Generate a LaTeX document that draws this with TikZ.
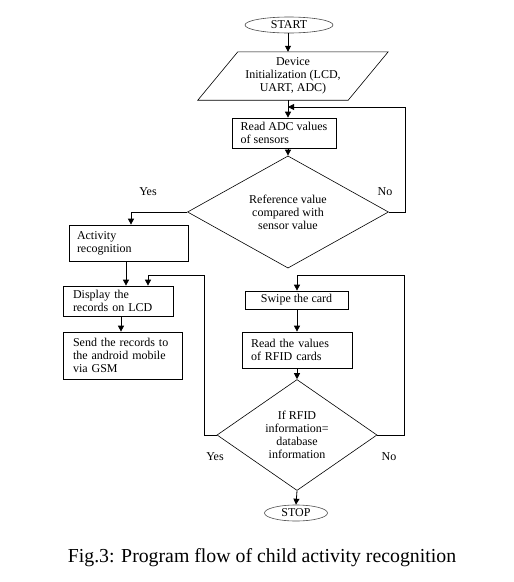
\documentclass[tikz,border=0pt]{standalone}
\usepackage{fontspec}
\setmainfont{Liberation Serif}
\usetikzlibrary{shapes.geometric,arrows.meta,calc}
\begin{document}
\begin{tikzpicture}[x=1pt,y=-1pt,
  nf/.style={font=\fontsize{12}{13}\selectfont},
  box/.style={draw, line width=0.7pt, inner sep=0pt, nf, align=left},
  term/.style={draw, ellipse, line width=0.6pt, draw=black!70, inner sep=0pt, nf},
  dec/.style={draw, diamond, line width=0.6pt, inner sep=0pt, nf, align=center},
  conn/.style={line width=0.8pt},
  arr/.style={conn, -{Triangle[length=6pt,width=6pt]}},
  lbl/.style={nf}]
\useasboundingbox (0,0) rectangle (514,582);
\coordinate (c) at (288,0);
% nodes
\node[term, minimum width=88, minimum height=16] (start) at (289,25) {START};
\node[nf, align=center, minimum width=150, minimum height=48, inner sep=0pt] (init) at (293,76) {Device\\Initialization (LCD,\\UART, ADC)};
\draw[line width=0.6pt] ($(init.north west)+(20,0)$) -- ($(init.north east)+(20,0)$) -- ($(init.south east)+(-20,0)$) -- ($(init.south west)+(-20,0)$) -- cycle;
\node[box, minimum width=104, minimum height=30] (read) at (284,133) {Read ADC values\\of sensors};
\node[dec, minimum width=201, minimum height=89] (dec1) at (288,212) {Reference value\\compared with\\sensor value};
\node[box, minimum width=119, minimum height=36, text width=103] (act) at (128.5,243) {Activity\\recognition};
\node[box, minimum width=110, minimum height=30, text width=90] (disp) at (118,301) {Display the\\records on LCD};
\node[box, minimum width=119, minimum height=47, text width=99] (send) at (122.5,355.5) {Send the records to\\the android mobile\\via GSM};
\node[box, align=center, minimum width=103, minimum height=18] (swipe) at (296.5,300) {Swipe the card};
\node[box, minimum width=110, minimum height=36, text width=92] (rfid) at (297,350) {Read the values\\of RFID cards};
\node[dec, minimum width=160, minimum height=109] (dec2) at (297,435) {If RFID\\information=\\database\\information};
\node[term, minimum width=63, minimum height=16] (stop) at (296,513) {STOP};
% labels
\node[lbl] (yes1) at (148,192) {Yes};
\node[lbl] (no1) at (385,192) {No};
\node[lbl] (yes2) at (215,457) {Yes};
\node[lbl] (no2) at (389,457) {No};
\node[font=\fontsize{19.8}{22}\selectfont] (cap) at (262,558) {Fig.3: Program flow of child activity recognition};
% connectors
\coordinate (j1) at (288,107);
\coordinate (j2) at (148,275);
\coordinate (j3) at (297,275);
\coordinate (j4) at (121,0);
\draw[arr] (start.south -| c) -- (init.north -| c);
\draw[arr] (init.south -| c) -- (read.north -| c);
\draw[arr] (read.south -| c) -- (dec1.north);
\draw[arr] (dec1.east) -- ++(17,0) |- (j1);
\draw[arr] (dec1.west) -| ([xshift=2.5pt]act.north);
\draw[arr] ([xshift=-2.5pt]act.south) -- ([xshift=-2.5pt]act.south |- disp.north);
\draw[arr] (disp.south -| j4) -- (send.north -| j4);
\draw[arr] (dec2.west) -- ++(-12,0) |- (j2) -- (j2 |- disp.north);
\draw[arr] (dec2.east) -- ++(27,0) |- (j3) -- (j3 |- swipe.north);
\draw[arr] (swipe.south -| j3) -- (rfid.north -| j3);
\draw[arr] (rfid.south -| j3) -- (dec2.north);
\draw[arr] (dec2.south) -- (stop.north);
\end{tikzpicture}
\end{document}
